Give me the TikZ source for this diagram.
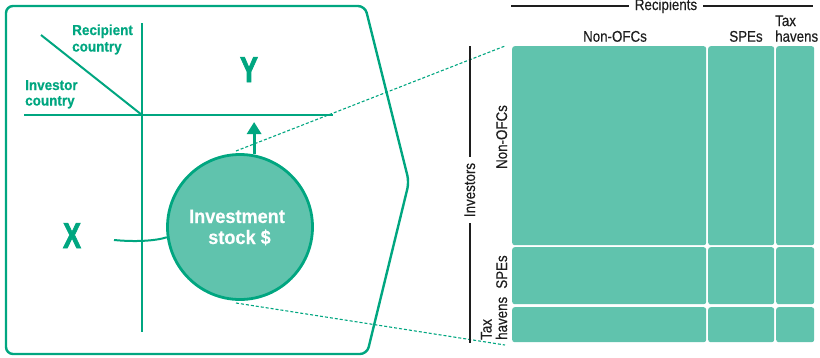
\documentclass[tikz,border=0pt]{standalone}
\usepackage{fontspec}
\setmainfont{Liberation Sans}[FakeStretch=0.86,FakeBold=0.35]
\newfontfamily\gfont{Liberation Sans}[FakeStretch=0.93,FakeBold=0.4]
\newfontfamily\bigfont{Liberation Sans}[FakeStretch=0.75,FakeBold=2]
\usetikzlibrary{arrows.meta}
\definecolor{tealline}{RGB}{0,166,128}
\definecolor{tealfill}{RGB}{96,195,173}
\definecolor{ink}{RGB}{30,30,30}
\begin{document}
\begin{tikzpicture}[x=1pt,y=-1pt,
 panel/.style={draw=tealline, line width=2.4pt, rounded corners=7pt},
 gline/.style={draw=tealline, line width=2pt},
 glabel/.style={font=\gfont\bfseries\fontsize{14.5}{16}\selectfont, text=tealline, inner sep=0, anchor=base west},
 bigletter/.style={font=\bigfont\bfseries\fontsize{36}{40}\selectfont, text=tealline, inner sep=0, anchor=base},
 wlabel/.style={font=\gfont\bfseries\fontsize{19.5}{21}\selectfont, text=white, inner sep=0, anchor=base},
 klabel/.style={font=\fontsize{15.5}{16}\selectfont, text=ink, inner sep=0},
 cell/.style={fill=tealfill, rounded corners=2.5pt, inner sep=0, anchor=north west},
 dashline/.style={draw=tealline, line width=1.1pt, dash pattern=on 3pt off 2pt},
 kline/.style={draw=ink, line width=1.3pt}]
\useasboundingbox (0,0) rectangle (820,357);
% panel
\draw[panel] (6,180) -- (6,6) -- (365,6) -- (409,182) -- (367,354) -- (6,354) -- cycle;
% axes
\coordinate (vt) at (142,23); \coordinate (vb) at (142,332);
\coordinate (hl) at (24,115); \coordinate (hr) at (333,115);
\coordinate (dg) at (41,35); \coordinate (og) at (142,115);
\draw[gline] (vt) -- (vb);
\draw[gline] (hl) -- (hr);
\draw[gline] (dg) -- (og);
% labels
\node[glabel] (rc1) at (72,35) {Recipient};
\node[glabel] (rc2) at (72,51.5) {country};
\node[glabel] (ic1) at (25,90) {Investor};
\node[glabel] (ic2) at (25,105.5) {country};
\node[bigletter] (Y) at (249,82) {Y};
\node[bigletter] (X) at (72,248) {X};
% dashed zoom lines
\coordinate (d1) at (236,151); \coordinate (d2) at (505,46);
\coordinate (d3) at (236,303); \coordinate (d4) at (505,345);
\draw[dashline] (d1) -- (d2);
\draw[dashline] (d3) -- (d4);
% circle
\node[circle, draw=tealline, line width=2.8pt, fill=tealfill, minimum size=145pt, inner sep=0] (stock) at (240,227) {};
\node[wlabel] (st1) at (237,223) {Investment};
\node[wlabel] (st2) at (239.5,244) {stock \$};
\coordinate (atip) at (254,122);
\draw[tealline, line width=3pt, -{Triangle[width=14pt,length=12pt]}] (stock.79) -- (stock.79 |- atip);
\coordinate (xs) at (114,240);
\draw[gline] (xs) .. controls (135,242) and (155,241) .. (stock.188);
% matrix cells
\foreach \x/\w [count=\i] in {512/194,708/66,776/38}{
  \foreach \y/\h [count=\j] in {46/199,247/57,307/35}{
    \node[cell, minimum width=\w pt, minimum height=\h pt] (c\i\j) at (\x,\y) {};
  }
}
% header labels
\node[klabel, anchor=base, inner xsep=6pt] (rec) at (666,10) {Recipients};
\coordinate (rl) at (511,6); \coordinate (rr) at (813,6);
\draw[kline] (rl) -- (rl -| rec.west);
\draw[kline] (rr -| rec.east) -- (rr);
\node[klabel, anchor=base] (h1) at (615,41.7) {Non-OFCs};
\node[klabel, anchor=base] (h2) at (746,41.7) {SPEs};
\node[klabel, anchor=base west] (h3a) at (775,26) {Tax};
\node[klabel, anchor=base west] (h3b) at (775,41.7) {havens};
% investors axis
\node[klabel, rotate=90, anchor=base, inner xsep=6pt] (inv) at (475,190) {Investors};
\coordinate (it) at (470,46); \coordinate (ib) at (470,343);
\draw[kline] (it) -- (it |- inv.east);
\draw[kline] (ib |- inv.west) -- (ib);
\node[klabel, rotate=90, anchor=base] (r1) at (507,137) {Non-OFCs};
\node[klabel, rotate=90, anchor=base] (r2) at (507,272) {SPEs};
\node[klabel, rotate=90, anchor=base west] (r3a) at (491.5,340) {Tax};
\node[klabel, rotate=90, anchor=base west] (r3b) at (507,340) {havens};
\end{tikzpicture}
\end{document}
